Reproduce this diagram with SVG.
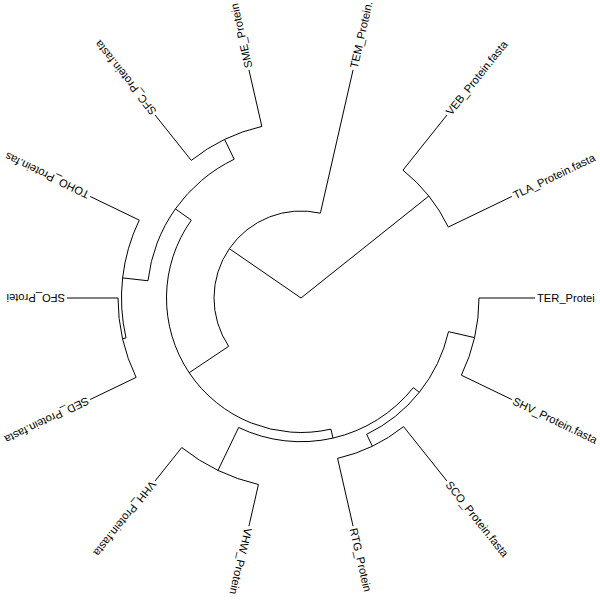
<svg xmlns="http://www.w3.org/2000/svg" width="600" height="600" viewBox="0 0 600 600">
<style>
.e{fill:none;stroke:#000;stroke-width:1;stroke-linecap:butt}
.t{font-family:"Liberation Sans",Arial,sans-serif;font-size:11.2px;fill:#000}
</style>
<rect width="600" height="600" fill="#fff"/>
<g id="connectors">
<path class="e" d="M301 298 L428.83 196.06"/>
<path class="e" d="M301 298 L229.34 248.66"/>
<path class="e" d="M228.66 346.33 A87 87 0 0 1 320.36 213.18"/>
<path class="e" d="M228.66 346.33 L189.17 372.72"/>
<path class="e" d="M320.36 213.18 L353.07 69.87"/>
<path class="e" d="M330.93 429.13 A134.5 134.5 0 0 1 191.31 220.16"/>
<path class="e" d="M330.93 429.13 L332.98 438.10"/>
<path class="e" d="M191.31 220.16 L175.41 208.88"/>
<path class="e" d="M413.35 387.60 A143.7 143.7 0 0 1 238.65 427.47"/>
<path class="e" d="M413.35 387.60 L419.29 392.33"/>
<path class="e" d="M238.65 427.47 L218.00 470.36"/>
<path class="e" d="M448.51 331.67 A151.3 151.3 0 0 1 366.65 434.32"/>
<path class="e" d="M448.51 331.67 L474.54 337.61"/>
<path class="e" d="M366.65 434.32 L372.37 446.21"/>
<path class="e" d="M479 298 A178 178 0 0 1 461.37 375.23"/>
<path class="e" d="M479 298 L535 298"/>
<path class="e" d="M461.37 375.23 L511.83 399.53"/>
<path class="e" d="M403.56 426.61 A164.5 164.5 0 0 1 337.60 458.38"/>
<path class="e" d="M403.56 426.61 L446.90 480.95"/>
<path class="e" d="M337.60 458.38 L353.07 526.13"/>
<path class="e" d="M258.43 484.50 A191.3 191.3 0 0 1 181.73 447.56"/>
<path class="e" d="M258.43 484.50 L248.93 526.13"/>
<path class="e" d="M181.73 447.56 L155.10 480.95"/>
<path class="e" d="M147.97 280.76 A154 154 0 0 1 234.18 159.25"/>
<path class="e" d="M147.97 280.76 L122.63 277.90"/>
<path class="e" d="M234.18 159.25 L224.64 139.43"/>
<path class="e" d="M126.00 337.94 A179.5 179.5 0 0 1 139.28 220.12"/>
<path class="e" d="M126.00 337.94 L122.59 338.72"/>
<path class="e" d="M139.28 220.12 L90.17 196.47"/>
<path class="e" d="M136.12 377.40 A183 183 0 0 1 118 298"/>
<path class="e" d="M136.12 377.40 L90.17 399.53"/>
<path class="e" d="M118 298 L67 298"/>
<path class="e" d="M191.27 160.40 A176 176 0 0 1 261.84 126.41"/>
<path class="e" d="M191.27 160.40 L155.10 115.05"/>
<path class="e" d="M261.84 126.41 L248.93 69.87"/>
<path class="e" d="M402.94 170.17 A163.5 163.5 0 0 1 448.31 227.06"/>
<path class="e" d="M402.94 170.17 L446.90 115.05"/>
<path class="e" d="M448.31 227.06 L511.83 196.47"/>
</g>
<g id="tip-TER"><text class="t" transform="translate(537 298) rotate(0)" dy="0.36em">TER_Protei</text></g>
<g id="tip-SHV"><text class="t" transform="translate(513.63 400.40) rotate(25.714)" dy="0.36em">SHV_Protein.fasta</text></g>
<g id="tip-SCO"><text class="t" transform="translate(448.14 482.51) rotate(51.429)" dy="0.36em">SCO_Protein.fasta</text></g>
<g id="tip-RTG"><text class="t" transform="translate(353.51 528.08) rotate(77.143)" dy="0.36em">RTG_Protein</text></g>
<g id="tip-VHW"><text class="t" transform="translate(248.49 528.08) rotate(102.857)" dy="0.36em">VHW_Protein</text></g>
<g id="tip-VHH"><text class="t" transform="translate(153.86 482.51) rotate(128.571)" dy="0.36em">VHH_Protein.fasta</text></g>
<g id="tip-SED"><text class="t" transform="translate(88.37 400.40) rotate(154.286)" dy="0.36em">SED_Protein.fasta</text></g>
<g id="tip-SFO"><text class="t" transform="translate(65 298) rotate(180)" dy="0.36em">SFO_Protei</text></g>
<g id="tip-TOHO"><text class="t" transform="translate(88.37 195.60) rotate(205.714)" dy="0.36em">TOHO_Protein.fas</text></g>
<g id="tip-SFC"><text class="t" transform="translate(153.86 113.49) rotate(231.429)" dy="0.36em">SFC_Protein.fasta</text></g>
<g id="tip-SME"><text class="t" transform="translate(248.49 67.92) rotate(257.143)" dy="0.36em">SME_Protein</text></g>
<g id="tip-TEM"><text class="t" transform="translate(353.51 67.92) rotate(282.857)" dy="0.36em">TEM_Protein.</text></g>
<g id="tip-VEB"><text class="t" transform="translate(448.14 113.49) rotate(308.571)" dy="0.36em">VEB_Protein.fasta</text></g>
<g id="tip-TLA"><text class="t" transform="translate(513.63 195.60) rotate(334.286)" dy="0.36em">TLA_Protein.fasta</text></g>
</svg>
